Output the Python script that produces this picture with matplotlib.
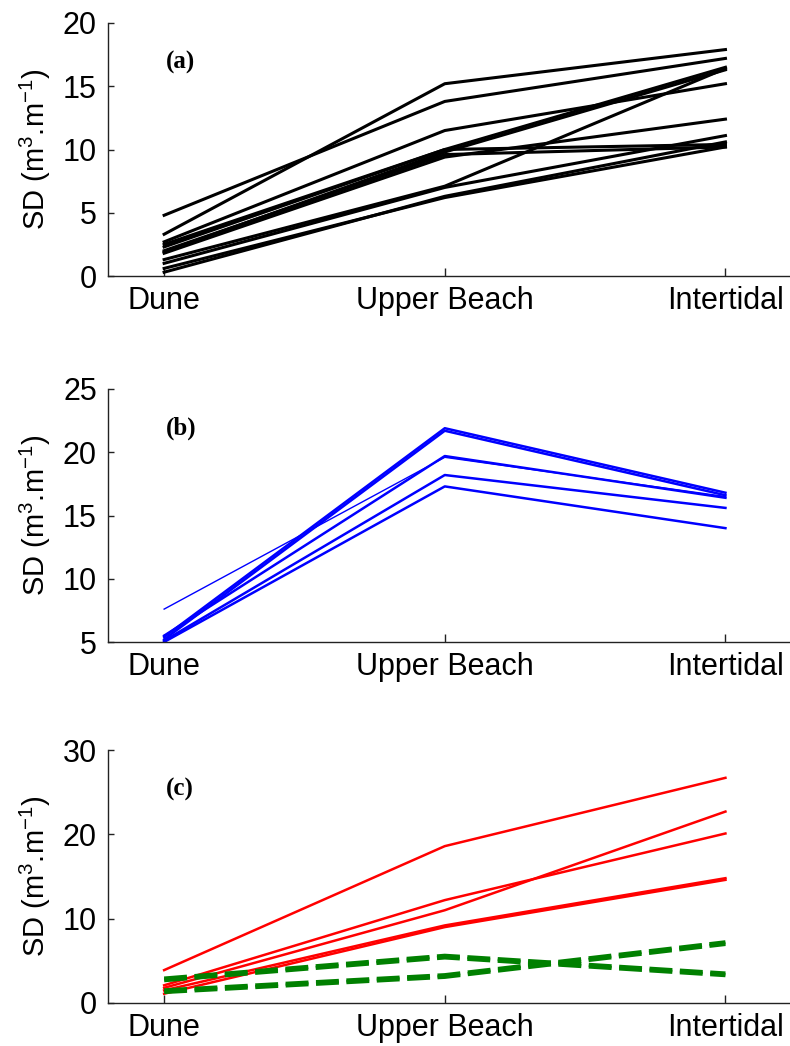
import matplotlib
matplotlib.use("Agg")
import matplotlib.pyplot as plt

plt.rcParams["mathtext.fontset"] = "custom"
plt.rcParams["mathtext.rm"] = "Liberation Sans"
plt.rcParams["mathtext.it"] = "Liberation Sans"

# -----------------------------
# Data
# -----------------------------
zones = ["Dune", "Upper Beach", "Intertidal"]
x = [1, 2, 3]

# panel (a): black lines, one row per profile (Dune, Upper Beach, Intertidal)
sd_a = [
    [3.3, 15.2, 17.9],
    [4.8, 13.8, 17.2],
    [2.7, 11.5, 15.2],
    [2.3, 10.0, 16.5],
    [1.3, 7.1, 16.4],
    [2.5, 10.0, 10.4],
    [2.0, 9.6, 10.2],
    [1.8, 9.4, 12.4],
    [0.6, 6.2, 10.2],
    [1.0, 7.0, 11.1],
    [0.3, 6.3, 10.6],
    [1.9, 9.8, 16.3],
]

# panel (b): blue lines
sd_b_thin = [7.6, 19.6, 16.5]
sd_b = [
    [5.4, 21.9, 16.8],
    [5.2, 21.7, 16.6],
    [5.5, 19.7, 16.4],
    [5.1, 18.2, 15.6],
    [5.0, 17.3, 14.0],
]

# panel (c): red solid and green dashed lines
sd_c_red = [
    [3.9, 18.6, 26.7],
    [2.1, 12.2, 20.1],
    [1.8, 11.0, 22.7],
    [1.5, 9.2, 14.8],
    [1.1, 9.0, 14.6],
]
sd_c_green = [
    [2.9, 5.6, 3.5],
    [2.7, 5.4, 3.3],
    [1.5, 3.3, 7.2],
    [1.3, 3.1, 7.0],
]

ylims = [(0, 20), (5, 25), (0, 30)]
yticks = [[0, 5, 10, 15, 20], [5, 10, 15, 20, 25], [0, 10, 20, 30]]
panel_tags = ["(a)", "(b)", "(c)"]

# -----------------------------
# Figure layout
# -----------------------------
fig = plt.figure(figsize=(7.9, 10.46), dpi=100)
left = 108 / 790
width = (790 - 108) / 790
bottoms = [1 - 276 / 1046, 1 - 642 / 1046, 1 - 1003 / 1046]
height = 253 / 1046
axes = [fig.add_axes([left, b, width, height]) for b in bottoms]

# panel (a)
for row in sd_a:
    axes[0].plot(x, row, color="black", lw=2.2)

# panel (b)
axes[1].plot(x, sd_b_thin, color="blue", lw=1.0)
for row in sd_b:
    axes[1].plot(x, row, color="blue", lw=1.8)

# panel (c)
for row in sd_c_red:
    axes[2].plot(x, row, color="red", lw=1.8)
for row in sd_c_green:
    axes[2].plot(x, row, color="green", lw=3.0, linestyle=(0, (5.5, 1.8)))

# -----------------------------
# Axes styling (MATLAB-like, box off)
# -----------------------------
for ax, yl, yt, tag in zip(axes, ylims, yticks, panel_tags):
    ax.set_xlim(0.8, 3.23)
    ax.set_ylim(*yl)
    ax.set_xticks(x)
    ax.set_xticklabels(zones)
    ax.set_yticks(yt)
    ax.spines["top"].set_visible(False)
    ax.spines["right"].set_visible(False)
    for s in ["left", "bottom"]:
        ax.spines[s].set_linewidth(1.0)
        ax.spines[s].set_color("#222222")
    ax.tick_params(axis="both", direction="in", labelsize=22, width=1,
                   colors="#222222", labelcolor="black")
    ax.tick_params(axis="x", length=6, pad=7)
    ax.tick_params(axis="y", length=4, pad=8)
    for lab in ax.get_xticklabels() + ax.get_yticklabels():
        lab.set_fontfamily("Liberation Sans")
    ax.set_ylabel(r"SD (m$^3$.m$^{-1}$)", fontsize=21, family="Liberation Sans",
                  labelpad=7)
    ax.text(0.085, 0.845, tag, transform=ax.transAxes, fontsize=18,
            fontweight="bold", family="Liberation Serif", ha="left", va="center")

fig.savefig("out.png", dpi=100)
